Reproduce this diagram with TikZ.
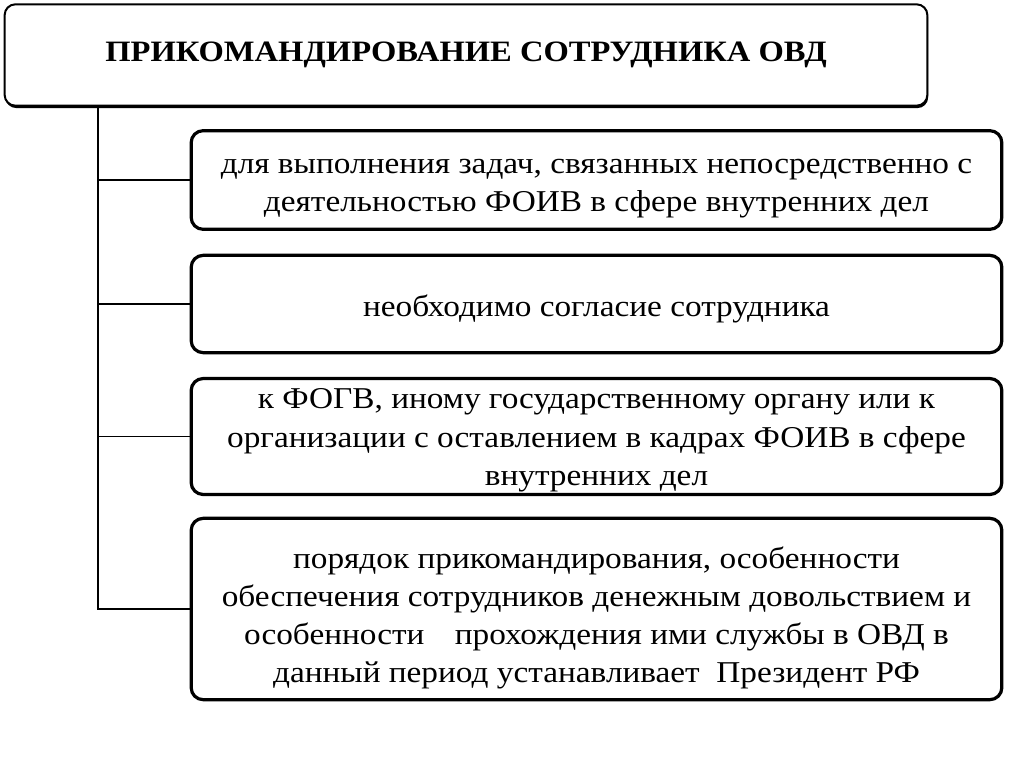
\documentclass[tikz,border=0pt]{standalone}
\usepackage{fontspec}
\setmainfont[FakeStretch=1.1]{Liberation Serif}
\usetikzlibrary{shadows}
\begin{document}
\begin{tikzpicture}[x=0.75pt,y=-0.75pt,
    head/.style={draw,line width=1.5pt,rounded corners=8pt,fill=white,
      drop shadow={shadow xshift=0.6pt,shadow yshift=-1.8pt,fill=black,opacity=1},
      minimum width=692pt,minimum height=76pt,font=\fontsize{22.2}{28}\selectfont\bfseries},
    box/.style={draw,line width=2.4pt,rounded corners=9pt,minimum width=608pt,
      align=center,font=\fontsize{22.7}{28.6}\selectfont,inner sep=0pt,
      execute at begin node={\rule{0pt}{#1}}},
    box/.default=24pt]
  \useasboundingbox (0,0) rectangle (1024,767);
  \node[head] (h) at (466,55) {ПРИКОМАНДИРОВАНИЕ СОТРУДНИКА ОВД};
  \node[box=52pt,minimum height=74pt] (a) at (596.5,180) {для выполнения задач, связанных непосредственно с\\деятельностью ФОИВ в сфере внутренних дел};
  \node[box,minimum height=73pt] (b) at (596.5,304) {необходимо согласие сотрудника};
  \node[box=78pt,minimum height=87pt] (c) at (596.5,436.5) {к ФОГВ, иному государственному органу или к\\организации с оставлением в кадрах ФОИВ в сфере\\внутренних дел};
  \node[box=115pt,minimum height=136pt] (d) at (596.5,609) {порядок прикомандирования, особенности\\обеспечения сотрудников денежным довольствием и\\особенности\quad прохождения ими службы в ОВД в\\данный период устанавливает\ \ Президент РФ};
  \coordinate (s) at (98,107);
  \draw[line width=1.2pt] (h.south -| s) -- (s |- d.west) -- (d.west);
  \draw[line width=1.2pt] (a.west) -- (a.west -| s);
  \draw[line width=1.2pt] (b.west) -- (b.west -| s);
  \draw[line width=1.2pt] (c.west) -- (c.west -| s);
\end{tikzpicture}
\end{document}
